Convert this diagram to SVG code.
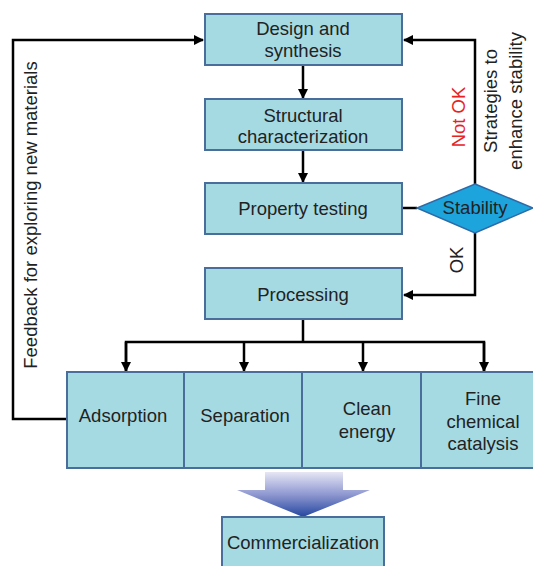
<svg xmlns="http://www.w3.org/2000/svg" width="533" height="566" viewBox="0 0 533 566">
<defs>
<style>
.box{fill:#a6dae2;stroke:#4a6e9c;stroke-width:2}
.t{font-family:"Liberation Sans",Arial,sans-serif;font-size:18.5px;fill:#222;text-anchor:middle}
.ln{fill:none;stroke:#000;stroke-width:2.5}
</style>
<marker id="ah" viewBox="0 0 10 10" refX="9" refY="5" markerWidth="4.2" markerHeight="4.2" orient="auto" markerUnits="strokeWidth">
<path d="M0,0 L10,5 L0,10 z" fill="#000"/>
</marker>
<linearGradient id="g" x1="0" y1="0" x2="0" y2="1">
<stop offset="0" stop-color="#e6e6f4"/>
<stop offset="0.5" stop-color="#8f98d0"/>
<stop offset="1" stop-color="#2446a0"/>
</linearGradient>
</defs>
<rect width="533" height="566" fill="#fff"/>
<g id="connectors">
<line class="ln" x1="303" y1="65" x2="303" y2="98" marker-end="url(#ah)"/>
<line class="ln" x1="303" y1="150" x2="303" y2="182" marker-end="url(#ah)"/>
<line class="ln" x1="402" y1="208" x2="417" y2="208"/>
<polyline class="ln" points="475,184 475,40 404,40" marker-end="url(#ah)"/>
<polyline class="ln" points="475,233 475,295 404,295" marker-end="url(#ah)"/>
<line class="ln" x1="303" y1="319" x2="303" y2="342"/>
<polyline class="ln" points="126,371 126,342 484,342 484,371"/>
<line class="ln" x1="126" y1="342" x2="126" y2="371" marker-end="url(#ah)"/>
<line class="ln" x1="244" y1="342" x2="244" y2="371" marker-end="url(#ah)"/>
<line class="ln" x1="363" y1="342" x2="363" y2="371" marker-end="url(#ah)"/>
<line class="ln" x1="484" y1="342" x2="484" y2="371" marker-end="url(#ah)"/>
<polyline class="ln" points="67,419 13,419 13,40 203,40" marker-end="url(#ah)"/>
<path d="M265,472 H343 V490 H370 L303,517 L237,490 H265 Z" fill="url(#g)"/>
<text class="t" transform="translate(37,215) rotate(-90)">Feedback for exploring new materials</text>
<text class="t" transform="translate(465,117) rotate(-90)" style="fill:#e8231f">Not OK</text>
<text class="t" transform="translate(497,101) rotate(-90)">Strategies to</text>
<text class="t" transform="translate(522,101) rotate(-90)">enhance stability</text>
<text class="t" transform="translate(463,260) rotate(-90)">OK</text>
</g>
<g id="design">
<rect class="box" x="205" y="14" width="197" height="51"/>
<text class="t" x="303" y="35">Design and</text>
<text class="t" x="303" y="57">synthesis</text>
</g>
<g id="structural">
<rect class="box" x="205" y="99" width="197" height="51"/>
<text class="t" x="303" y="122">Structural</text>
<text class="t" x="303" y="143">characterization</text>
</g>
<g id="property">
<rect class="box" x="205" y="183" width="197" height="51"/>
<text class="t" x="303" y="215">Property testing</text>
</g>
<g id="stability">
<polygon points="475,184 533,208 475,233 417,208" fill="#1ea4dc" stroke="#2d6aa8" stroke-width="1.5"/>
<text class="t" x="475" y="214">Stability</text>
</g>
<g id="processing">
<rect class="box" x="205" y="268" width="197" height="51"/>
<text class="t" x="303" y="301">Processing</text>
</g>
<g id="adsorption">
<rect class="box" x="67" y="372" width="117" height="96"/>
<text class="t" x="123" y="422">Adsorption</text>
</g>
<g id="separation">
<rect class="box" x="184" y="372" width="118" height="96"/>
<text class="t" x="245" y="422">Separation</text>
</g>
<g id="clean">
<rect class="box" x="302" y="372" width="119" height="96"/>
<text class="t" x="367" y="415">Clean</text>
<text class="t" x="367" y="438">energy</text>
</g>
<g id="fine">
<rect class="box" x="421" y="372" width="118" height="96"/>
<text class="t" x="483" y="405">Fine</text>
<text class="t" x="483" y="428">chemical</text>
<text class="t" x="483" y="450">catalysis</text>
</g>
<g id="commercialization">
<rect class="box" x="222" y="517" width="162" height="52"/>
<text class="t" x="303" y="549">Commercialization</text>
</g>
</svg>
